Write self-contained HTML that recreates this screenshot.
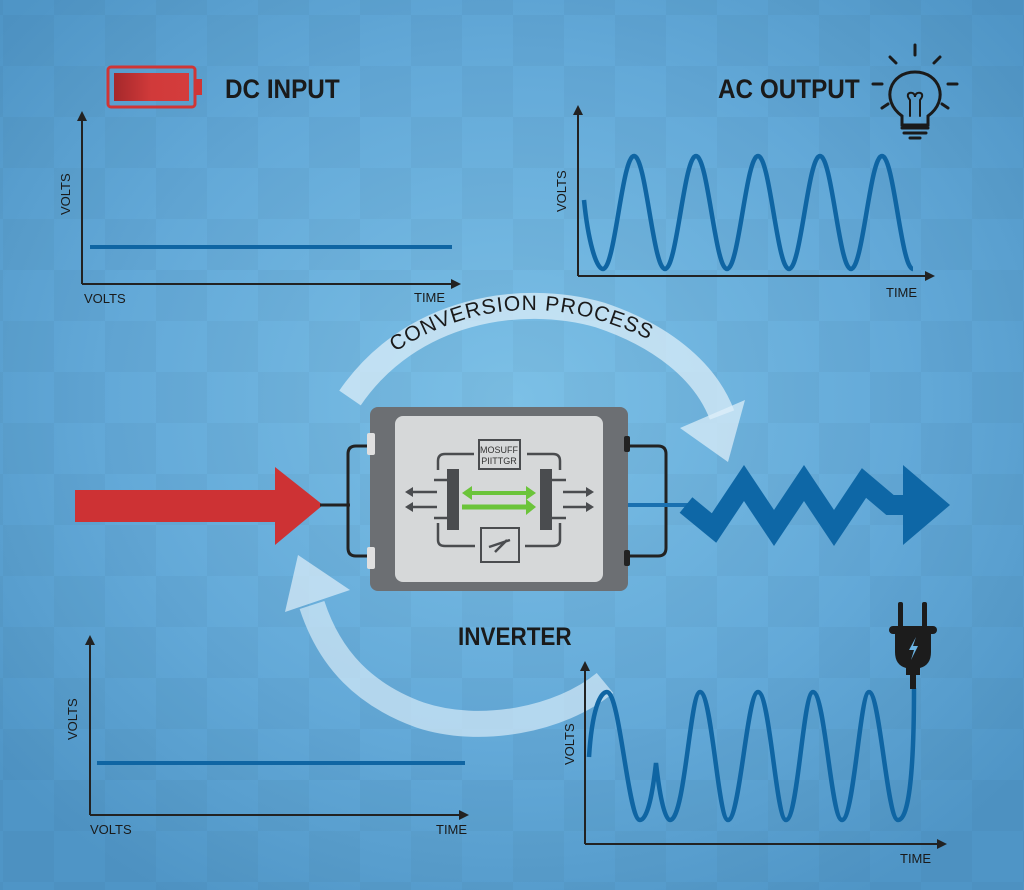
<!DOCTYPE html>
<html><head><meta charset="utf-8"><style>
html,body{margin:0;padding:0;width:1024px;height:890px;overflow:hidden;background:#5aa2d2}
svg{display:block}
text{font-family:"Liberation Sans",sans-serif}
</style></head><body>
<svg width="1024" height="890" viewBox="0 0 1024 890" xmlns="http://www.w3.org/2000/svg">
<defs>
<radialGradient id="bg" cx="0.5" cy="0.45" r="0.65">
<stop offset="0" stop-color="#7cc0e6"/><stop offset="0.6" stop-color="#63a9d8"/><stop offset="1" stop-color="#4f95c6"/>
</radialGradient>
<pattern id="chk" width="102" height="102" patternUnits="userSpaceOnUse" x="3" y="15">
<rect width="51" height="51" fill="#000" opacity="0.028"/><rect x="51" y="51" width="51" height="51" fill="#000" opacity="0.028"/>
</pattern>
<linearGradient id="bat" x1="0" x2="1"><stop offset="0" stop-color="#a5282b"/><stop offset="0.5" stop-color="#d13a3a"/><stop offset="1" stop-color="#d43c3c"/></linearGradient>
<marker id="ah" markerWidth="10" markerHeight="10" refX="5" refY="5" orient="auto" markerUnits="userSpaceOnUse"><path d="M0,0 L10,5 L0,10 z" fill="#222"/></marker>
<path id="arcText" d="M395,352 Q522,270 665,348"/>
</defs>
<rect width="1024" height="890" fill="url(#bg)"/>
<rect width="1024" height="890" fill="url(#chk)"/>

<rect x="108" y="67" width="87" height="40" rx="3" fill="none" stroke="#d03535" stroke-width="3"/>
<rect x="114" y="73" width="75" height="28" fill="url(#bat)"/>
<rect x="195" y="79" width="7" height="16" fill="#d03535"/>
<text x="225" y="98" font-size="27" font-weight="bold" fill="#1a1a1a" transform="translate(225 0) scale(0.9 1) translate(-225 0)">DC INPUT</text>
<g stroke="#222" stroke-width="2" fill="none">
<line x1="82" y1="284" x2="82" y2="116" marker-end="url(#ah)"/>
<line x1="82" y1="284" x2="456" y2="284" marker-end="url(#ah)"/>
</g>
<line x1="90" y1="247" x2="452" y2="247" stroke="#0f65a3" stroke-width="4"/>
<text x="70" y="215" font-size="13" fill="#1a1a1a" transform="rotate(-90 70 215)">VOLTS</text>
<text x="84" y="303" font-size="13" fill="#1a1a1a">VOLTS</text>
<text x="414" y="302" font-size="13" fill="#1a1a1a">TIME</text>

<text x="718" y="98" font-size="27" font-weight="bold" fill="#1a1a1a" transform="translate(718 0) scale(0.9 1) translate(-718 0)">AC OUTPUT</text>
<g stroke="#1a1a1a" stroke-width="3" fill="none" stroke-linecap="round">
<path d="M902,116 C880,100 890,72 915,72 C940,72 950,100 928,116 L928,125 L902,125 Z"/>
<line x1="902" y1="128" x2="928" y2="128"/><line x1="904" y1="133" x2="926" y2="133"/><line x1="910" y1="138" x2="920" y2="138"/>
<path d="M910,116 L910,100 M920,116 L920,100 M910,100 C903,92 915,90 915,97 C915,90 927,92 920,100" stroke-width="2"/>
<line x1="915" y1="45" x2="915" y2="55"/><line x1="890" y1="57" x2="896" y2="63"/><line x1="940" y1="57" x2="934" y2="63"/>
<line x1="873" y1="84" x2="882" y2="84"/><line x1="948" y1="84" x2="957" y2="84"/>
<line x1="882" y1="108" x2="888" y2="104"/><line x1="948" y1="108" x2="942" y2="104"/>
</g>
<g stroke="#222" stroke-width="2" fill="none">
<line x1="578" y1="276" x2="578" y2="110" marker-end="url(#ah)"/>
<line x1="578" y1="276" x2="930" y2="276" marker-end="url(#ah)"/>
</g>
<path d="M584,200 C588,240 596,269 603,269 C615,269 622,156 634,156 C646,156 653,269 665,269 C677,269 684,156 696,156 C708,156 715,269 727,269 C739,269 746,156 758,156 C770,156 777,269 789,269 C801,269 808,156 820,156 C832,156 839,269 851,269 C863,269 870,156 882,156 C894,156 901,269 913,269" fill="none" stroke="#0f65a3" stroke-width="4.5"/>
<text x="566" y="212" font-size="13" fill="#1a1a1a" transform="rotate(-90 566 212)">VOLTS</text>
<text x="886" y="297" font-size="13" fill="#1a1a1a">TIME</text>

<path d="M350,398 C410,310 520,292 600,315 C660,335 705,370 722,415" fill="none" stroke="#dff0fa" stroke-opacity="0.72" stroke-width="26"/>
<path d="M680,428 L745,400 L728,462 Z" fill="#dff0fa" fill-opacity="0.72"/>
<text font-size="21" fill="#1a1a1a" letter-spacing="1"><textPath href="#arcText">CONVERSION PROCESS</textPath></text>
<path d="M605,683 C560,720 480,735 420,715 C365,695 330,660 312,605" fill="none" stroke="#dff0fa" stroke-opacity="0.65" stroke-width="26"/>
<path d="M285,612 L298,555 L350,590 Z" fill="#dff0fa" fill-opacity="0.7"/>

<rect x="75" y="490" width="205" height="32" fill="#cd3234"/>
<path d="M275,467 L323,505 L275,545 Z" fill="#cd3234"/>
<line x1="320" y1="505" x2="350" y2="505" stroke="#222" stroke-width="3"/>

<path d="M372,446 L356,446 Q348,446 348,454 L348,548 Q348,556 356,556 L372,556" fill="none" stroke="#222" stroke-width="3"/>
<path d="M626,446 L658,446 Q666,446 666,454 L666,548 Q666,556 658,556 L626,556" fill="none" stroke="#222" stroke-width="3"/>
<line x1="628" y1="505" x2="690" y2="505" stroke="#1a70b0" stroke-width="4"/>

<rect x="370" y="407" width="258" height="184" rx="8" fill="#6c6f73"/>
<rect x="395" y="416" width="208" height="166" rx="8" fill="#d6d8d9"/>
<rect x="367" y="433" width="8" height="22" rx="2" fill="#e0e0e0"/>
<rect x="367" y="547" width="8" height="22" rx="2" fill="#e0e0e0"/>
<rect x="624" y="436" width="6" height="16" rx="2" fill="#222"/>
<rect x="624" y="550" width="6" height="16" rx="2" fill="#222"/>
<g stroke="#4a4c4f" stroke-width="2.5" fill="none">
<rect x="479" y="440" width="41" height="29" stroke-width="2"/>
<rect x="481" y="528" width="38" height="34" stroke-width="2"/>
<path d="M474,454 L445,454 Q438,454 438,461 L438,470"/>
<path d="M527,454 L553,454 Q560,454 560,461 L560,470"/>
<path d="M438,523 L438,540 Q438,546 445,546 L475,546"/>
<path d="M560,523 L560,540 Q560,546 553,546 L525,546"/>
<path d="M434,480 L458,480 M434,518 L458,518 M540,480 L566,480 M540,518 L566,518"/>
<path d="M407,492 L437,492 M407,507 L437,507 M563,492 L592,492 M563,507 L592,507"/>
<path d="M489,547 L510,540 M495,552 L507,540"/>
</g>
<path d="M405,492 l8,-5 v10 z M405,507 l8,-5 v10 z M594,492 l-8,-5 v10 z M594,507 l-8,-5 v10 z" fill="#4a4c4f"/>
<rect x="447" y="469" width="12" height="61" fill="#4a4c4f"/>
<rect x="540" y="469" width="12" height="61" fill="#4a4c4f"/>
<line x1="470" y1="493" x2="528" y2="493" stroke="#6bc43a" stroke-width="4"/>
<path d="M462,493 l10,-7 v14 z M536,493 l-10,-7 v14 z" fill="#6bc43a"/>
<line x1="462" y1="507" x2="528" y2="507" stroke="#6bc43a" stroke-width="5"/>
<path d="M536,507 l-10,-8 v16 z" fill="#6bc43a"/>
<text x="499" y="453" font-size="9" fill="#333" text-anchor="middle">MOSUFF</text>
<text x="499" y="464" font-size="9" fill="#333" text-anchor="middle">PIITTGR</text>

<polyline points="686,505 714,528 744,483 774,528 804,483 834,528 864,483 890,505 908,505" fill="none" stroke="#0e67a6" stroke-width="20" stroke-linejoin="miter"/>
<path d="M903,465 L950,505 L903,545 Z" fill="#0e67a6"/>

<text x="458" y="645" font-size="25" font-weight="bold" fill="#1a1a1a" transform="translate(458 0) scale(0.9 1) translate(-458 0)">INVERTER</text>

<g stroke="#222" stroke-width="2" fill="none">
<line x1="90" y1="815" x2="90" y2="640" marker-end="url(#ah)"/>
<line x1="90" y1="815" x2="464" y2="815" marker-end="url(#ah)"/>
</g>
<line x1="97" y1="763" x2="465" y2="763" stroke="#0f65a3" stroke-width="4"/>
<text x="77" y="740" font-size="13" fill="#1a1a1a" transform="rotate(-90 77 740)">VOLTS</text>
<text x="90" y="834" font-size="13" fill="#1a1a1a">VOLTS</text>
<text x="436" y="834" font-size="13" fill="#1a1a1a">TIME</text>

<g stroke="#222" stroke-width="2" fill="none">
<line x1="585" y1="844" x2="585" y2="666" marker-end="url(#ah)"/>
<line x1="585" y1="844" x2="942" y2="844" marker-end="url(#ah)"/>
</g>
<text x="574" y="765" font-size="13" fill="#1a1a1a" transform="rotate(-90 574 765)">VOLTS</text>
<text x="900" y="863" font-size="13" fill="#1a1a1a">TIME</text>
<path d="M589,757 C592,710 600,692 607,692 C620,692 628,820 640,820 C648,820 653,790 656,763 C659,790 664,820 670,820 C685,820 690,692 700,692 C712,692 718,820 728,820 C740,820 747,692 758,692 C770,692 776,820 786,820 C798,820 803,692 813,692 C825,692 831,820 842,820 C854,820 860,692 869,692 C880,692 887,820 898,820 C912,820 914,740 914,688" fill="none" stroke="#0f65a3" stroke-width="4.5"/>
<g fill="#1c1c1c">
<rect x="898" y="602" width="5" height="26" rx="2"/><rect x="922" y="602" width="5" height="26" rx="2"/>
<rect x="889" y="626" width="48" height="8" rx="4"/>
<path d="M895,632 L931,632 L931,652 Q931,665 920,668 L920,675 L906,675 L906,668 Q895,665 895,652 Z"/>
<rect x="910" y="675" width="6" height="14"/>
</g>
<path d="M916,637 L909,650 L914,650 L911,660 L918,646 L913,646 Z" fill="#6ab4e4"/>
</svg>
</body></html>
